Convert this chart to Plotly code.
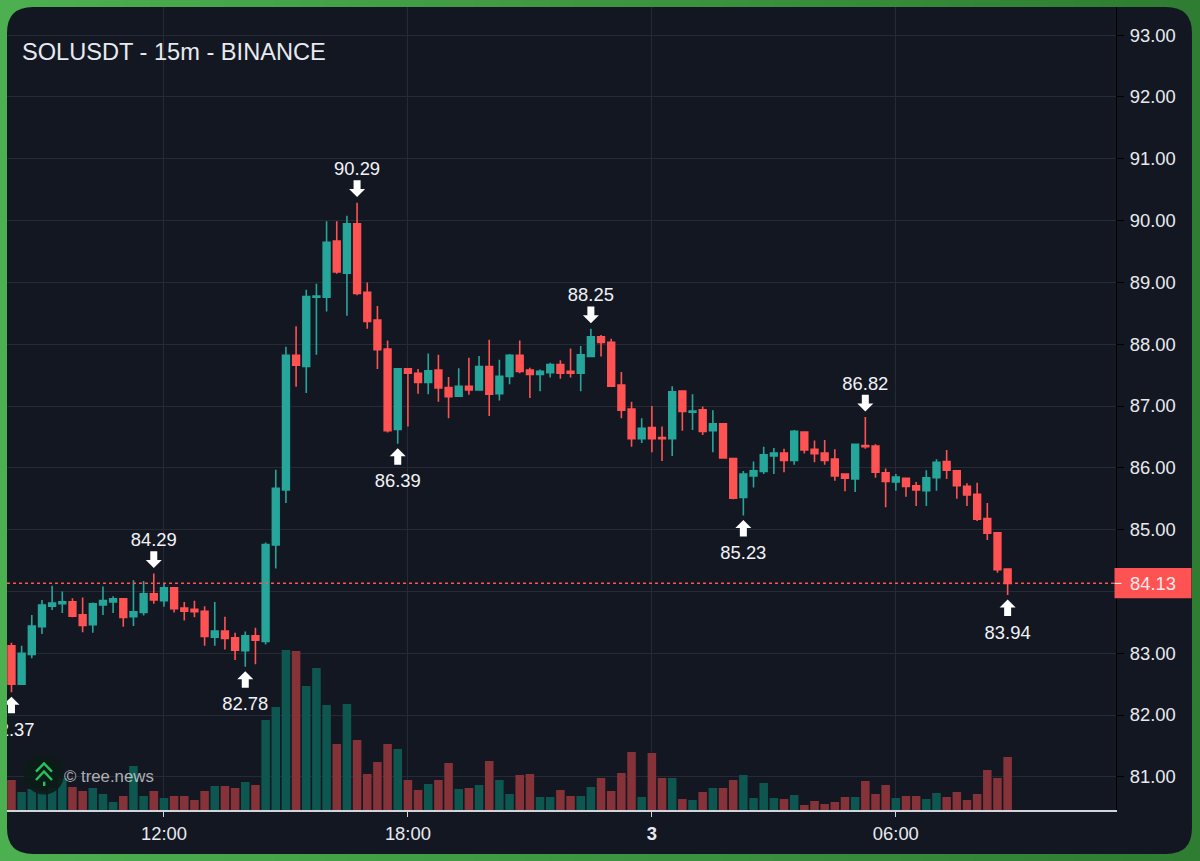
"""SOLUSDT 15m candlestick card with volume bars and swing labels."""

import pandas as pd
import plotly.graph_objects as go

W, H = 1200, 861
PLOT_L, PLOT_R, PLOT_T, PLOT_B = 7, 1116.5, 7, 810

BG = "#131722"
GRID = "#262a35"
UP = "#26A69A"
DOWN = "#FF5252"
TEXT = "#e8eaf0"

start = "2026-02-02 08:15"

opens = [
    83.12, 82.50, 82.98, 83.43, 83.76, 83.80, 83.83, 83.62, 83.46, 83.78,
    83.83, 83.88, 83.59, 83.66, 83.96, 83.85, 84.06, 83.73, 83.71, 83.68,
    83.26, 83.36, 83.25, 83.04, 83.28, 83.19, 84.75, 85.64, 87.82, 87.64,
    88.76, 88.76, 89.67, 89.15, 89.95, 88.84, 88.39, 87.92, 86.62, 87.60,
    87.53, 87.38, 87.58, 87.30, 87.16, 87.32, 87.26, 87.64, 87.20, 87.48,
    87.82, 87.58, 87.51, 87.54, 87.67, 87.56, 87.53, 87.80, 88.12, 88.03,
    87.34, 86.95, 86.47, 86.65, 86.49, 86.47, 87.24, 86.90, 86.94, 86.60,
    86.71, 86.15, 85.52, 85.87, 85.94, 86.19, 86.24, 86.12, 86.58, 86.30,
    86.24, 86.14, 85.90, 85.82, 86.36, 86.35, 85.92, 85.77, 85.83, 85.71,
    85.63, 85.84, 86.10, 85.95, 85.70, 85.57, 85.18, 84.95, 84.36,
]
highs = [
    83.17, 83.12, 83.62, 83.86, 84.09, 84.00, 83.89, 83.90, 83.82, 84.08,
    83.92, 83.89, 84.18, 84.17, 84.29, 84.13, 84.06, 83.83, 83.85, 83.76,
    83.83, 83.59, 83.33, 83.35, 83.41, 84.79, 85.97, 87.96, 88.29, 88.88,
    88.98, 89.99, 89.99, 90.08, 90.29, 89.00, 88.62, 88.06, 87.61, 87.60,
    87.60, 87.85, 87.83, 87.47, 87.61, 87.78, 87.81, 88.07, 87.75, 87.84,
    88.06, 87.62, 87.59, 87.70, 87.74, 87.93, 87.97, 88.25, 88.15, 88.09,
    87.55, 87.07, 86.80, 87.00, 86.67, 87.32, 87.25, 87.19, 86.99, 86.93,
    86.72, 86.16, 85.95, 86.10, 86.34, 86.32, 86.31, 86.61, 86.58, 86.44,
    86.45, 86.30, 85.91, 86.38, 86.82, 86.38, 85.99, 85.90, 85.84, 85.77,
    85.96, 86.14, 86.29, 85.96, 85.75, 85.76, 85.43, 84.95, 84.36,
]
lows = [
    82.37, 82.50, 82.92, 83.31, 83.70, 83.65, 83.58, 83.34, 83.33, 83.62,
    83.65, 83.43, 83.44, 83.61, 83.80, 83.75, 83.66, 83.53, 83.58, 83.12,
    83.12, 83.06, 82.89, 82.78, 82.82, 83.14, 84.37, 85.43, 87.31, 87.21,
    87.83, 88.53, 89.14, 88.46, 88.79, 88.25, 87.60, 86.57, 86.39, 86.67,
    87.20, 87.19, 87.07, 86.80, 87.15, 87.18, 87.26, 86.84, 87.09, 87.35,
    87.53, 87.13, 87.24, 87.46, 87.44, 87.46, 87.24, 87.79, 87.80, 87.31,
    86.80, 86.34, 86.40, 86.25, 86.11, 86.19, 86.60, 86.61, 86.53, 86.25,
    86.15, 85.49, 85.23, 85.68, 85.90, 85.90, 85.93, 86.05, 86.23, 86.09,
    86.05, 85.79, 85.62, 85.61, 86.31, 85.84, 85.36, 85.63, 85.53, 85.38,
    85.38, 85.63, 85.82, 85.50, 85.38, 85.14, 84.83, 84.30, 83.94,
]
closes = [
    82.50, 83.00, 83.44, 83.78, 83.81, 83.83, 83.60, 83.45, 83.80, 83.85,
    83.88, 83.58, 83.67, 83.96, 83.86, 84.06, 83.72, 83.68, 83.67, 83.27,
    83.36, 83.24, 83.05, 83.28, 83.21, 84.76, 85.67, 87.82, 87.66, 88.77,
    88.78, 89.65, 89.17, 89.95, 88.82, 88.37, 87.91, 86.60, 87.60, 87.53,
    87.38, 87.57, 87.29, 87.15, 87.32, 87.26, 87.64, 87.19, 87.48, 87.82,
    87.56, 87.51, 87.56, 87.67, 87.53, 87.53, 87.83, 88.12, 88.03, 87.32,
    86.93, 86.47, 86.64, 86.47, 86.47, 87.23, 86.91, 86.92, 86.59, 86.71,
    86.16, 85.51, 85.90, 85.95, 86.21, 86.24, 86.12, 86.59, 86.29, 86.23,
    86.12, 85.87, 85.83, 86.38, 86.34, 85.93, 85.78, 85.85, 85.70, 85.64,
    85.84, 86.09, 85.96, 85.71, 85.56, 85.17, 84.94, 84.35, 84.13,
]
volumes = [
    30, 18, 21, 19, 22, 32, 23, 19, 22, 16,
    8, 14, 44, 14, 19, 12, 14, 14, 10, 19,
    24, 24, 22, 28, 25, 90, 103, 160, 159, 124,
    142, 105, 66, 106, 70, 36, 48, 66, 61, 30,
    20, 26, 30, 47, 21, 22, 25, 49, 30, 16,
    35, 36, 13, 13, 20, 14, 14, 23, 32, 19,
    37, 58, 13, 57, 32, 32, 11, 10, 18, 22,
    22, 30, 35, 12, 27, 12, 11, 15, 5, 9,
    6, 8, 13, 13, 29, 16, 25, 12, 14, 14,
    11, 17, 13, 18, 10, 16, 40, 32, 53,
]

high_marks = [(14, 84.29), (34, 90.29), (57, 88.25), (84, 86.82)]
low_marks = [(0, 82.37), (23, 82.78), (38, 86.39), (72, 85.23), (98, 83.94)]

price_ticks = [81, 82, 83, 84, 85, 86, 87, 88, 89, 90, 91, 92, 93]
# 84.00 sits under the last price tag
price_labels = ["81.00", "82.00", "83.00", "", "85.00", "86.00", "87.00",
                "88.00", "89.00", "90.00", "91.00", "92.00", "93.00"]
time_ticks = ["2026-02-02 12:00", "2026-02-02 18:00", "2026-02-03 00:00", "2026-02-03 06:00"]
time_labels = ["12:00", "18:00", "<b>3</b>", "06:00"]
last_price = 84.13

BAR = pd.Timedelta(minutes=15)
dates = pd.date_range(start, periods=len(opens), freq="15min")
bar_colors = ["#0e5650" if c >= o else "#853338" for o, c in zip(opens, closes)]


def px(x):
    return (x - PLOT_L) / (PLOT_R - PLOT_L)


def py(y):
    return (PLOT_B - y) / (PLOT_B - PLOT_T)


def rounded_panel(x0, y0, x1, y1, r):
    return (
        f"M {px(x0 + r)} {py(y0)} L {px(x1 - r)} {py(y0)} "
        f"Q {px(x1)} {py(y0)} {px(x1)} {py(y0 + r)} L {px(x1)} {py(y1 - r)} "
        f"Q {px(x1)} {py(y1)} {px(x1 - r)} {py(y1)} L {px(x0 + r)} {py(y1)} "
        f"Q {px(x0)} {py(y1)} {px(x0)} {py(y1 - r)} L {px(x0)} {py(y0 + r)} "
        f"Q {px(x0)} {py(y0)} {px(x0 + r)} {py(y0)} Z"
    )


def logo_line(points, width=2.4):
    path = "M " + " L ".join(f"{px(x)} {py(y)}" for x, y in points)
    return dict(type="path", xref="paper", yref="paper", path=path, layer="above",
                line=dict(color="#22c55e", width=width))


shapes = []

# green card border, fades left to right
for i in range(48):
    t = i / 47
    color = f"rgb({76 - 30 * t:.0f},{175 - 50 * t:.0f},{80 - 30 * t:.0f})"
    shapes.append(dict(type="rect", xref="paper", yref="paper", layer="below",
                       x0=px(i * 25), x1=px((i + 1) * 25 + 1), y0=py(0), y1=py(H),
                       fillcolor=color, line_width=0))
shapes.append(dict(type="path", xref="paper", yref="paper", layer="below",
                   path=rounded_panel(7, 7, 1192.5, 854, 26), fillcolor=BG, line_width=0))

# swing arrows stay fixed in pixels, anchored on the price
for i, price in high_marks:
    path = "M 0 5.6 L 8 13.6 L 3.5 13.6 L 3.5 22.3 L -3.5 22.3 L -3.5 13.6 L -8 13.6 Z"
    shapes.append(dict(type="path", xref="x", yref="y2", xsizemode="pixel", ysizemode="pixel",
                       xanchor=dates[i], yanchor=price, path=path, fillcolor="white", line_width=0))
for i, price in low_marks:
    path = "M 0 -4.5 L 8 -12.5 L 3.5 -12.5 L 3.5 -21 L -3.5 -21 L -3.5 -12.5 L -8 -12.5 Z"
    shapes.append(dict(type="path", xref="x", yref="y2", xsizemode="pixel", ysizemode="pixel",
                       xanchor=dates[i], yanchor=price, path=path, fillcolor="white", line_width=0))

# last price line and tag
shapes.append(dict(type="line", xref="paper", yref="y2", x0=0, x1=1, y0=last_price, y1=last_price,
                   line=dict(color=DOWN, width=1.5, dash="3px,3px")))
shapes.append(dict(type="rect", xref="paper", yref="paper", x0=px(1115), x1=px(1192),
                   y0=py(568), y1=py(598.3), fillcolor=DOWN, line_width=0))
shapes.append(dict(type="line", xref="paper", yref="y2", x0=px(1115), x1=px(1122),
                   y0=last_price, y1=last_price, line=dict(color="white", width=1)))

# tree.news badge
shapes.append(dict(type="circle", xref="paper", yref="paper", layer="above",
                   x0=px(24), x1=px(64), y0=py(754.5), y1=py(794.5),
                   fillcolor="rgba(13,28,24,0.93)", line_width=0))
shapes.append(logo_line([(36, 771.7), (44, 763.5), (52, 771.7)]))
shapes.append(logo_line([(36, 780), (44, 771.5), (52, 780)]))
shapes.append(logo_line([(44.2, 781.7), (44.2, 786)]))

fig = go.Figure()
fig.add_trace(go.Bar(
    x=dates,
    y=volumes,
    width=0.84 * BAR.total_seconds() * 1000,
    marker=dict(color=bar_colors, line_width=0),
    yaxis="y",
    hoverinfo="skip",
))
fig.add_trace(go.Candlestick(
    x=dates,
    open=opens,
    high=highs,
    low=lows,
    close=closes,
    yaxis="y2",
    whiskerwidth=0,
    increasing=dict(line=dict(color=UP, width=1.6), fillcolor=UP),
    decreasing=dict(line=dict(color=DOWN, width=1.6), fillcolor=DOWN),
    hoverinfo="skip",
))
fig.add_trace(go.Scatter(
    x=[dates[i] for i, _ in high_marks] + [dates[i] for i, _ in low_marks],
    y=[p + 0.52 for _, p in high_marks] + [p - 0.63 for _, p in low_marks],
    text=[f"{p:.2f}" for _, p in high_marks + low_marks],
    mode="text",
    textposition="middle center",
    textfont=dict(color="#f2f3f6", size=18.4, family="Liberation Sans"),
    yaxis="y2",
    hoverinfo="skip",
))

fig.update_layout(
    width=W,
    height=H,
    margin=dict(l=PLOT_L, r=W - PLOT_R, t=PLOT_T, b=H - PLOT_B, pad=0),
    paper_bgcolor="#3e9642",
    plot_bgcolor="rgba(0,0,0,0)",
    showlegend=False,
    boxgap=0.05,
    font=dict(family="Liberation Sans", color=TEXT, size=18),
    xaxis=dict(
        type="date",
        range=[dates[0] - 0.44 * BAR, dates[-1] + 10.66 * BAR],
        rangeslider_visible=False,
        tickvals=time_ticks,
        ticktext=time_labels,
        tickangle=0,
        showgrid=True,
        gridcolor=GRID,
        gridwidth=1,
        zeroline=False,
        showline=True,
        linecolor="#d1d4dc",
        linewidth=2,
        ticks="outside",
        ticklen=5,
        tickcolor="#d1d4dc",
        ticklabelstandoff=1,
        tickfont=dict(size=18.4, color=TEXT),
    ),
    yaxis=dict(range=[0, 803], visible=False, fixedrange=True),
    yaxis2=dict(
        range=[80.463, 93.456],
        overlaying="y",
        side="right",
        tickvals=price_ticks,
        ticktext=price_labels,
        showgrid=True,
        gridcolor=GRID,
        gridwidth=1,
        zeroline=False,
        showline=True,
        linecolor="#000000",
        linewidth=1,
        ticks="outside",
        ticklen=7,
        tickcolor="#000000",
        ticklabelstandoff=2,
        tickfont=dict(size=18.4, color=TEXT),
    ),
    shapes=shapes,
    annotations=[
        dict(text="SOLUSDT - 15m - BINANCE", xref="paper", yref="paper", x=px(20), y=py(52),
             xanchor="left", yanchor="middle", showarrow=False,
             font=dict(size=23.6, color=TEXT)),
        dict(text="© tree.news", xref="paper", yref="paper", x=px(62), y=py(776),
             xanchor="left", yanchor="middle", showarrow=False,
             font=dict(size=16.8, color="rgba(255,255,255,0.66)")),
        dict(text=f"{last_price:.2f}", xref="paper", yref="paper", x=px(1153.5), y=py(583.5),
             xanchor="center", yanchor="middle", showarrow=False,
             font=dict(size=18.4, color="#fbeaea")),
    ],
)

# the page's default body margin would push the card off the window
fig.write_html("out.html", config={"displayModeBar": False},
               post_script="document.body.style.margin='0';")
